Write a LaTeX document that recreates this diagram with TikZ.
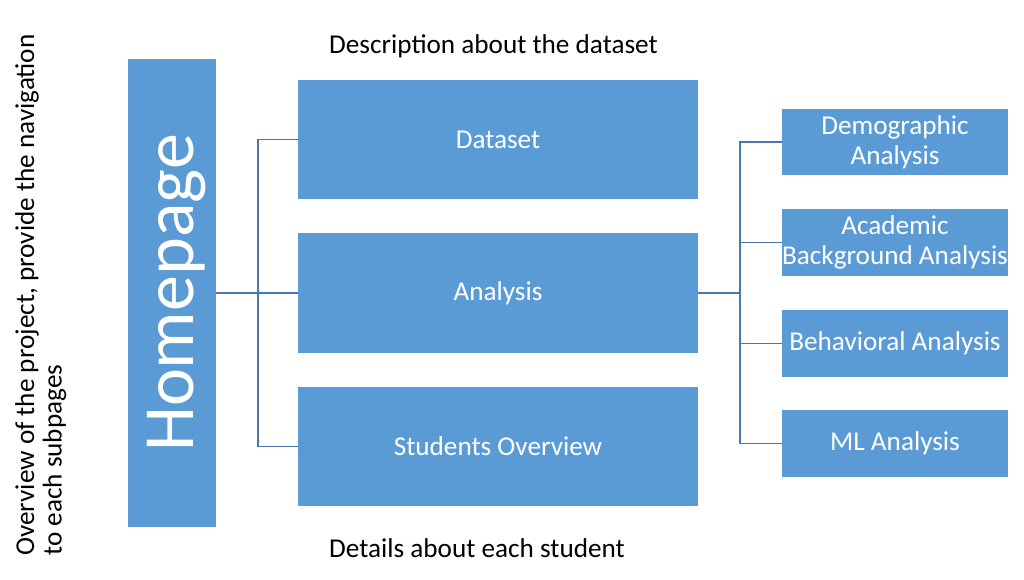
\documentclass[tikz,border=0pt]{standalone}
\usepackage{fontspec}
\setmainfont{Carlito}
\definecolor{boxblue}{RGB}{91,155,213}
\definecolor{lineblue}{RGB}{70,120,175}
\begin{document}
\begin{tikzpicture}[x=1pt,y=-1pt,
  bx/.style={rectangle,fill=boxblue,draw=none,inner sep=0pt,text=white,align=center,
    font=\fontsize{27.2}{30}\selectfont},
  lbl/.style={inner sep=0pt,font=\fontsize{27.2}{27.5}\selectfont},
  conn/.style={draw=lineblue,line width=1.5pt}]
\useasboundingbox (0,0) rectangle (1024,580);
\node[bx,minimum width=88pt,minimum height=468pt] (home) at (172,293)
  {\rotatebox{90}{\raisebox{-5pt}[\height][\depth]{\fontsize{72}{72}\selectfont Homepage}}};
\node[bx,minimum width=400pt,minimum height=119pt] (ds) at (498,139.5) {Dataset};
\node[bx,minimum width=400pt,minimum height=120pt] (ana) at (498,293) {Analysis};
\node[bx,minimum width=400pt,minimum height=119pt] (so) at (498,446.5) {Students Overview};
\node[bx,minimum width=226pt,minimum height=66pt] (demo) at (895,142) {Demographic\\Analysis};
\node[bx,minimum width=226pt,minimum height=67pt] (acad) at (895,242.5) {Academic\\Background Analysis};
\node[bx,minimum width=226pt,minimum height=67pt] (beh) at (895,343.5) {Behavioral Analysis};
\node[bx,minimum width=226pt,minimum height=67pt] (ml) at (895,443.5) {ML Analysis};
\node[lbl,anchor=west] (top) at (329,46) {Description about the dataset};
\node[lbl,anchor=west] (bot) at (329,548) {Details about each student};
\node[lbl,rotate=90,anchor=north west,align=left] (side) at (15,556)
  {Overview of the project, provide the navigation\\to each subpages};
\coordinate (lb) at (258,293);
\coordinate (rb) at (740,293);
\draw[conn] (home.east) -- (ana.west);
\draw[conn] (ds.west) -| (lb) |- (so.west);
\draw[conn] (ana.east) -- (rb);
\draw[conn] (demo.west) -| (rb) |- (ml.west);
\draw[conn] (acad.west) -- (acad.west -| rb);
\draw[conn] (beh.west) -- (beh.west -| rb);
\end{tikzpicture}
\end{document}
